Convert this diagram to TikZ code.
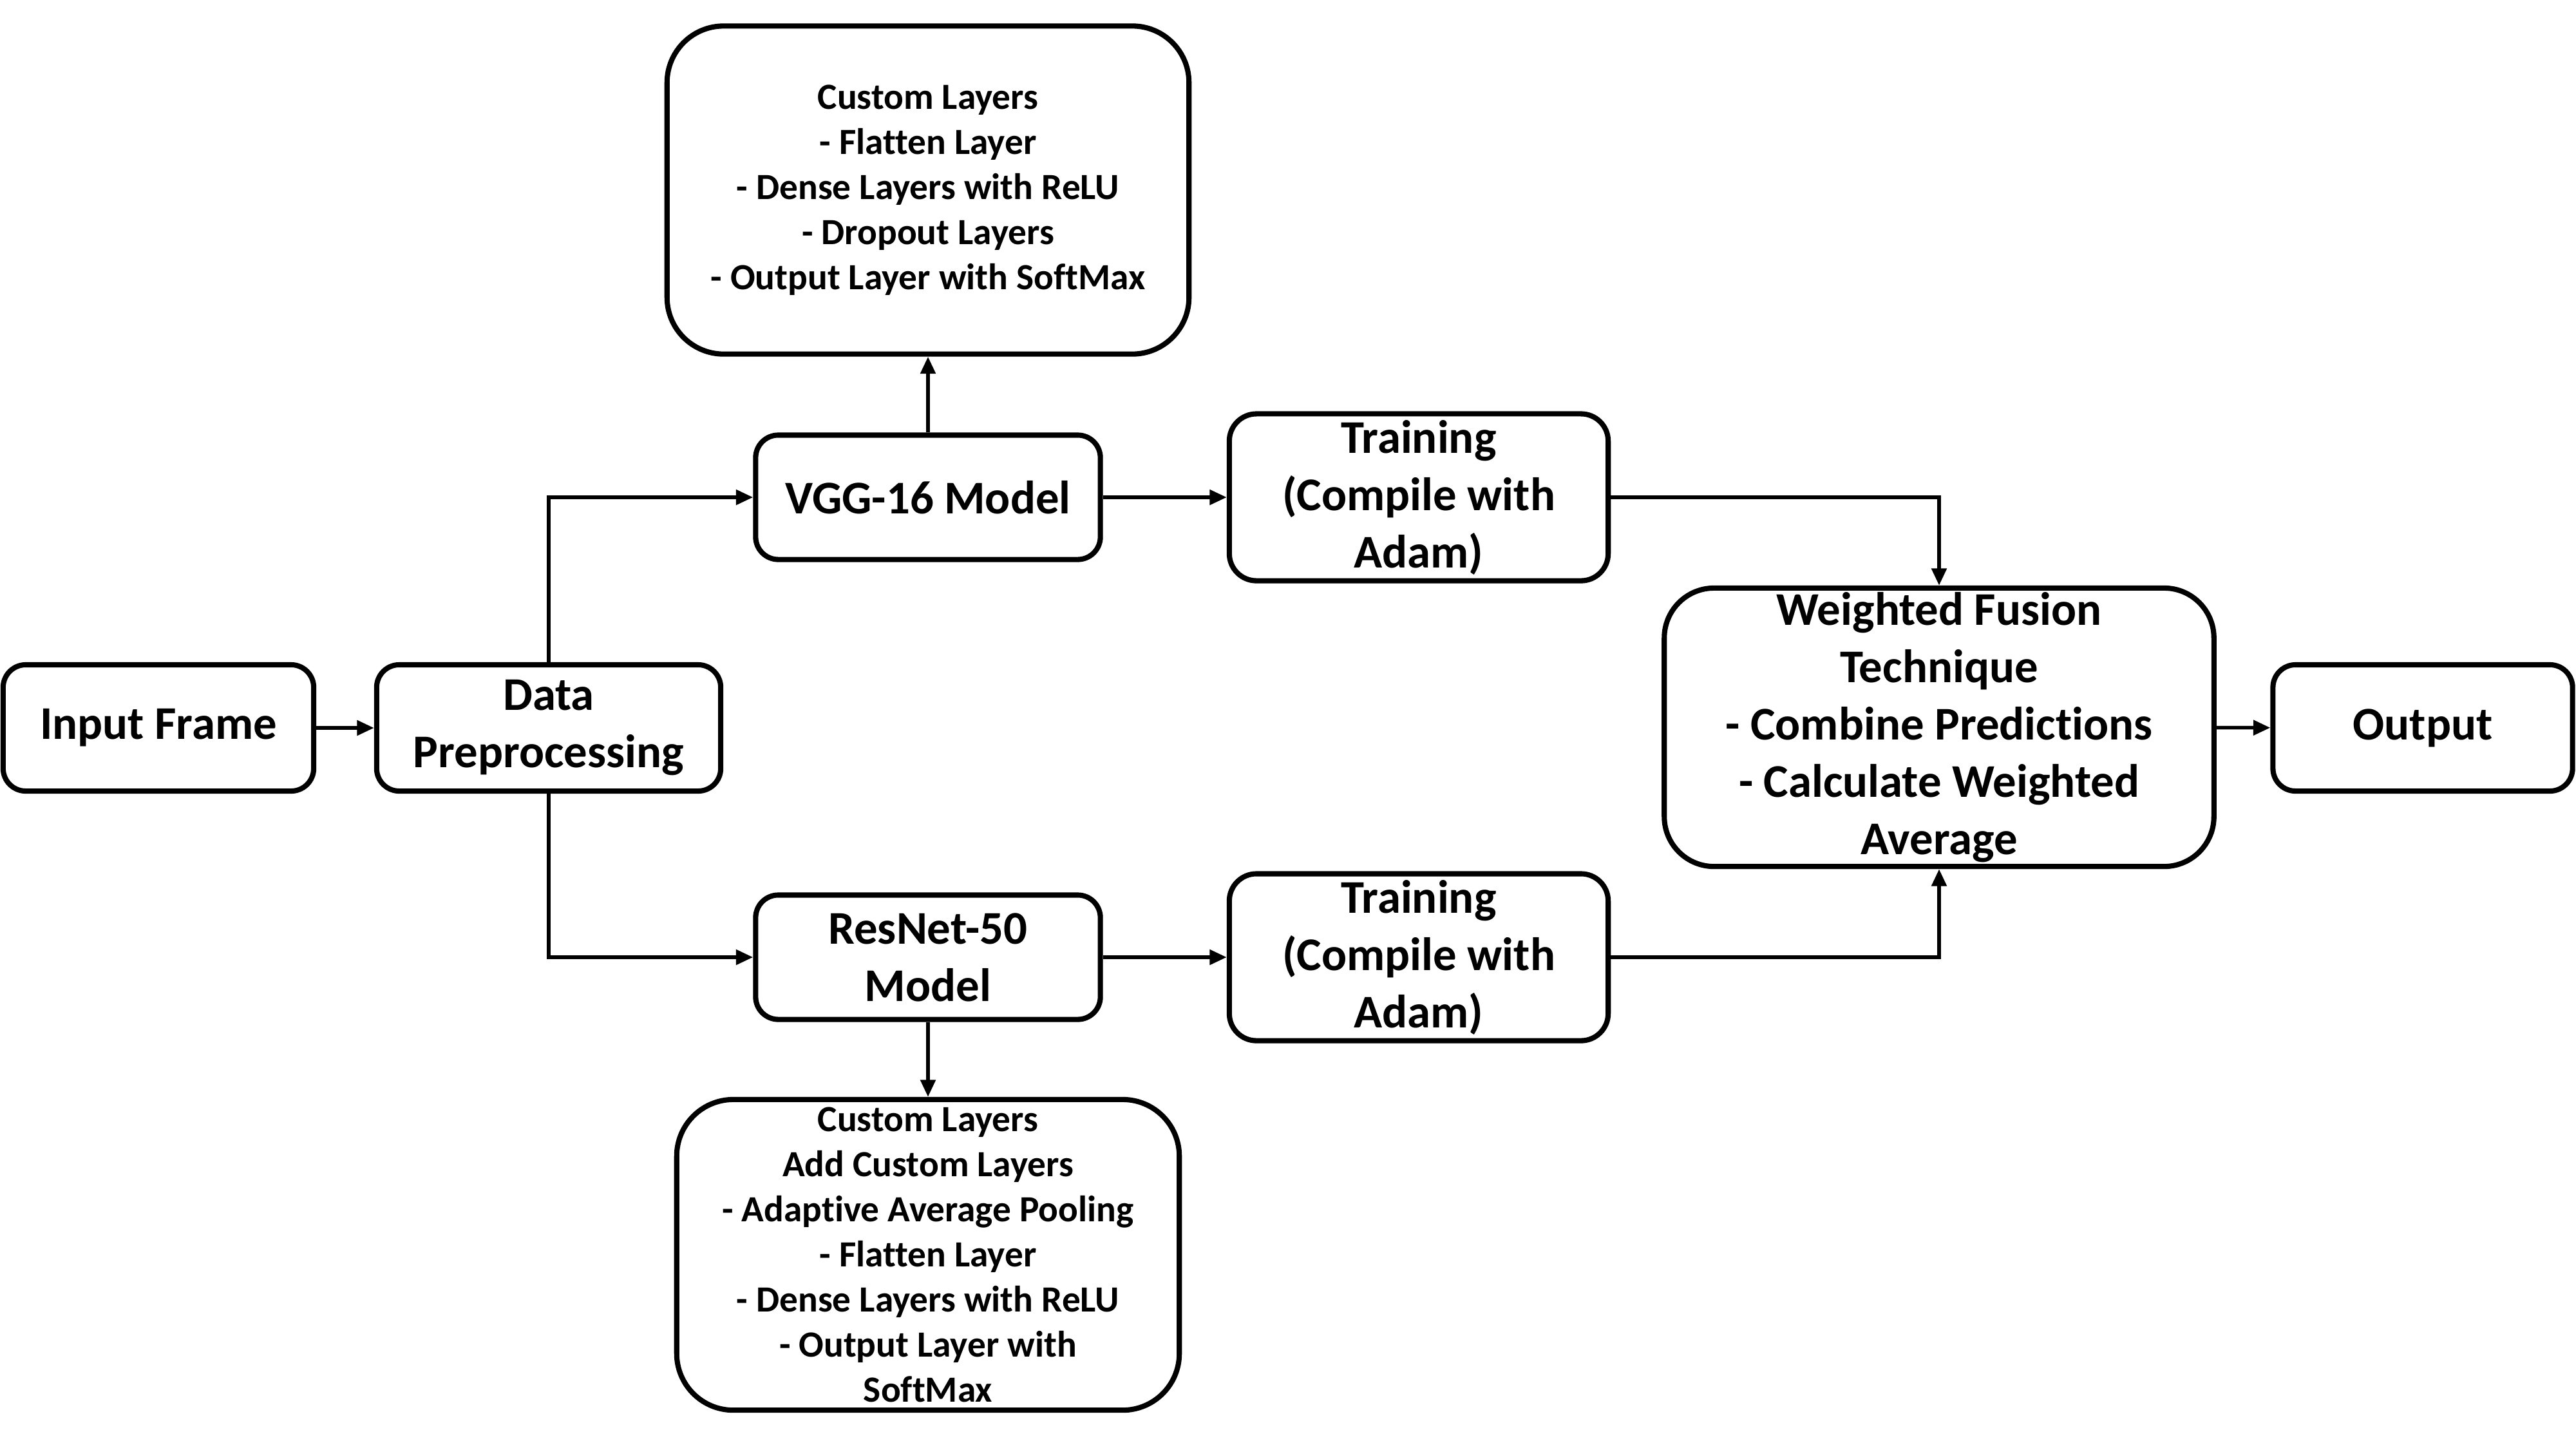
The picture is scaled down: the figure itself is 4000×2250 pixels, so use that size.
\documentclass[tikz,border=0pt]{standalone}
\usepackage{fontspec}
\setmainfont{Carlito}[Ligatures=NoCommon]
\usetikzlibrary{arrows.meta}
\begin{document}
\begin{tikzpicture}[x=0.01cm,y=-0.01cm,
  box/.style={draw, line width=2.3pt, rectangle, align=center, inner sep=0pt,
    font=\bfseries\fontsize{20.7}{25.3}\selectfont},
  smallbox/.style={box, font=\bfseries\fontsize{16.3}{19.9}\selectfont},
  conn/.style={line width=1.6pt, -{Triangle[length=7.5pt,width=6.5pt]}}]
\useasboundingbox (0,0) rectangle (4000,2250);
\node[box, minimum width=4.82cm, minimum height=1.96cm, rounded corners=10pt] (inp) at (246,1130) {Input Frame};
\node[box, minimum width=5.34cm, minimum height=1.96cm, rounded corners=10pt] (dp) at (852,1130) {Data\\Preprocessing};
\node[box, minimum width=5.35cm, minimum height=1.93cm, rounded corners=10pt] (vgg) at (1441,772) {VGG-16 Model};
\node[smallbox, minimum width=8.10cm, minimum height=5.09cm, rounded corners=25pt] (ctop) at (1441,295) {Custom Layers\\- Flatten Layer\\- Dense Layers with ReLU\\- Dropout Layers\\- Output Layer with SoftMax};
\node[box, minimum width=5.88cm, minimum height=2.59cm, rounded corners=12pt] (tr1) at (2203,772) {Training\\(Compile with\\Adam)};
\node[box, minimum width=5.35cm, minimum height=1.93cm, rounded corners=10pt] (res) at (1441,1486) {ResNet-50\\Model};
\node[smallbox, minimum width=7.80cm, minimum height=4.82cm, rounded corners=25pt] (cbot) at (1441,1948) {Custom Layers\\Add Custom Layers\\- Adaptive Average Pooling\\- Flatten Layer\\- Dense Layers with ReLU\\- Output Layer with\\SoftMax};
\node[box, minimum width=5.88cm, minimum height=2.59cm, rounded corners=12pt] (tr2) at (2203,1486) {Training\\(Compile with\\Adam)};
\node[box, minimum width=8.53cm, minimum height=4.32cm, rounded corners=22pt] (fus) at (3011,1129) {Weighted Fusion\\Technique\\- Combine Predictions\\- Calculate Weighted\\Average};
\node[box, minimum width=4.65cm, minimum height=1.96cm, rounded corners=10pt] (out) at (3762,1130) {Output};
\draw[conn] (inp) -- (dp);
\draw[conn] (dp.north) |- (vgg.west);
\draw[conn] (dp.south) |- (res.west);
\draw[conn] (vgg.north) -- (ctop.south);
\draw[conn] (res.south) -- (cbot.north);
\draw[conn] (vgg) -- (tr1);
\draw[conn] (res) -- (tr2);
\draw[conn] (tr1.east) -| (fus.north);
\draw[conn] (tr2.east) -| (fus.south);
\draw[conn] (fus) -- (out);
\end{tikzpicture}
\end{document}
